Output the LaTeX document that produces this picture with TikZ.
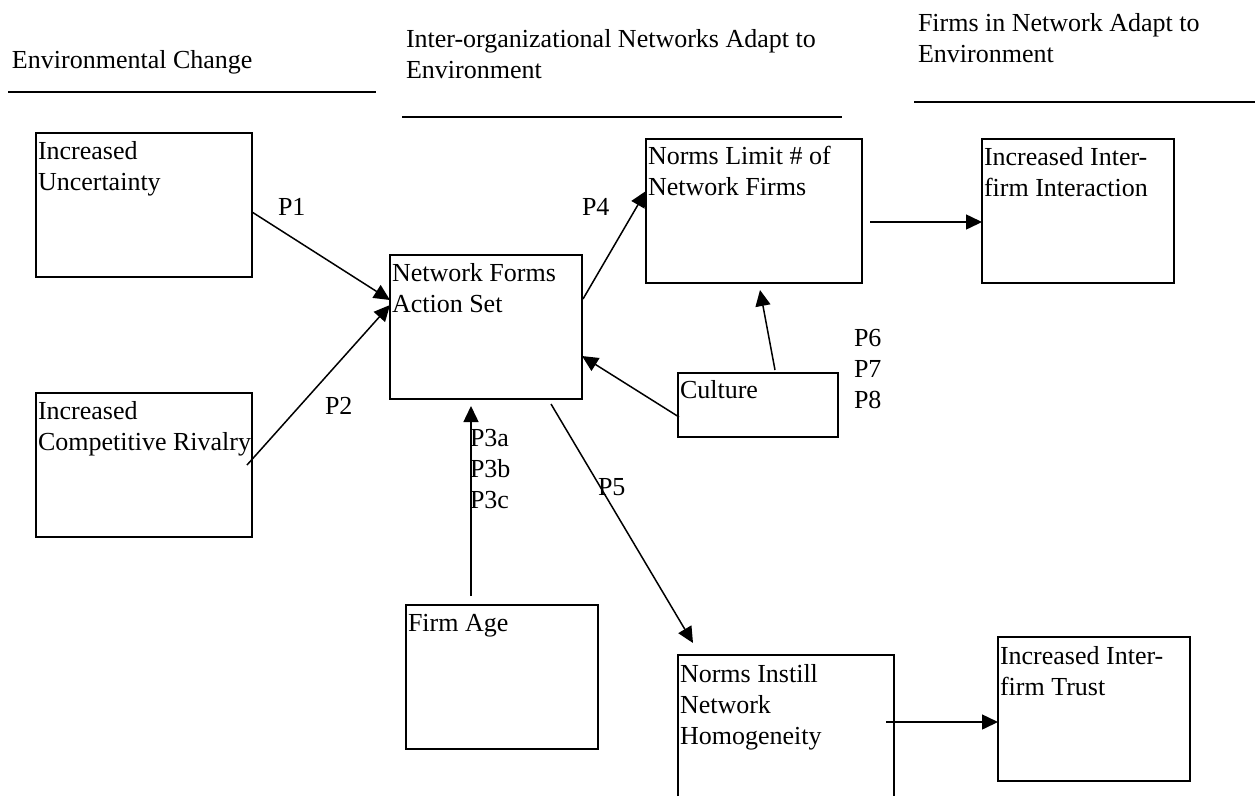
\documentclass[tikz,border=0pt]{standalone}
\usepackage{fontspec}
\setmainfont{Liberation Serif}
\usetikzlibrary{arrows.meta,calc}
\begin{document}
\begin{tikzpicture}[x=1pt,y=-1pt,
  box/.style={draw, line width=2pt, inner sep=0pt, outer sep=0pt, anchor=north west,
              minimum width=216pt, minimum height=144pt},
  nbox/.style={box, minimum width=192pt},
  txt/.style={anchor=north west, inner sep=0pt, outer sep=0pt, align=left,
              font={\fontsize{26}{31}\selectfont}},
  lbl/.style={anchor=base west, inner sep=0pt, outer sep=0pt,
              font={\fontsize{26}{31}\selectfont}},
  arr/.style={-{Triangle[length=16pt,width=15pt]}, line width=1.5pt},
  hline/.style={line width=2pt}]
\useasboundingbox (0,0) rectangle (1255,796);

% headers
\node[txt] (h1) at (12,46.3) {\strut Environmental Change};
\node[txt] (h2) at (406,25.3) {\strut Inter-organizational Networks Adapt to\\Environment};
\node[txt] (h3) at (918,9.3) {\strut Firms in Network Adapt to\\Environment};
\draw[hline] (8,92) -- (376,92);
\draw[hline] (402,117) -- (842,117);
\draw[hline] (914,102) -- (1255,102);

% boxes
\node[box] (unc) at (36,133) {};
\node[box] (riv) at (36,393) {};
\node[nbox] (nf) at (390,255) {};
\node[nbox] (age) at (406,605) {};
\node[box, minimum width=160pt, minimum height=64pt] (cul) at (678,373) {};
\node[box] (nl) at (646,139) {};
\node[nbox] (ii) at (982,139) {};
\node[nbox] (it) at (998,637) {};
\node[box, draw=none, minimum height=141pt] (ni) at (678,655) {};
\draw[line width=2pt] (ni.south west) -- (ni.north west) -- (ni.north east) -- (ni.south east);

% box texts
\node[txt] (uncT) at ($(unc.north west)+(2,4.3)$) {\strut Increased\\Uncertainty};
\node[txt] (rivT) at ($(riv.north west)+(2,4.3)$) {\strut Increased\\Competitive Rivalry};
\node[txt] (nfT) at ($(nf.north west)+(2,4.3)$) {\strut Network Forms\\Action Set};
\node[txt] (ageT) at ($(age.north west)+(2,4.3)$) {\strut Firm Age};
\node[txt] (culT) at ($(cul.north west)+(2,3.3)$) {\strut Culture};
\node[txt] (nlT) at ($(nl.north west)+(2,3.3)$) {\strut Norms Limit \# of\\Network Firms};
\node[txt] (iiT) at ($(ii.north west)+(2,4.3)$) {\strut Increased Inter-\\firm Interaction};
\node[txt] (itT) at ($(it.north west)+(2,5.3)$) {\strut Increased Inter-\\firm Trust};
\node[txt] (niT) at ($(ni.north west)+(2,5.3)$) {\strut Norms Instill\\Network\\Homogeneity};

% labels
\node[lbl] (p1) at (278,215) {P1};
\node[lbl] (p2) at (325,414) {P2};
\node[lbl] (p4) at (582,215) {P4};
\node[lbl] (p5) at (598,495) {P5};
\node[txt] (p3) at (470,425) {\strut P3a\\P3b\\P3c};
\node[txt] (p6) at (854,325) {\strut P6\\P7\\P8};

% connectors
\draw[arr] ($(unc.north east)+(0,79)$) -- ($(nf.north west)+(0,45)$);
\draw[arr] ($(riv.north east)+(-5,72)$) -- ($(nf.north west)+(0,50)$);
\draw[arr] ($(nf.north east)+(1,44)$) -- ($(nl.north west)+(0,52)$);
\draw[arr] ($(nl.north east)+(8,83)$) -- ($(ii.north west)+(0,83)$);
\draw[arr] ($(cul.north west)+(1,44)$) -- ($(nf.north east)+(0,101)$);
\draw[arr] ($(cul.north west)+(97,-3)$) -- ($(nl.south west)+(114,7)$);
\draw[arr] ($(age.north west)+(65,-9)$) -- ($(nf.south west)+(81,7)$);
\draw[arr] ($(nf.south west)+(161,5)$) -- ($(ni.north west)+(15,-12)$);
\draw[arr] ($(ni.north east)+(-8,67)$) -- ($(it.north west)+(0,85)$);
\end{tikzpicture}
\end{document}
